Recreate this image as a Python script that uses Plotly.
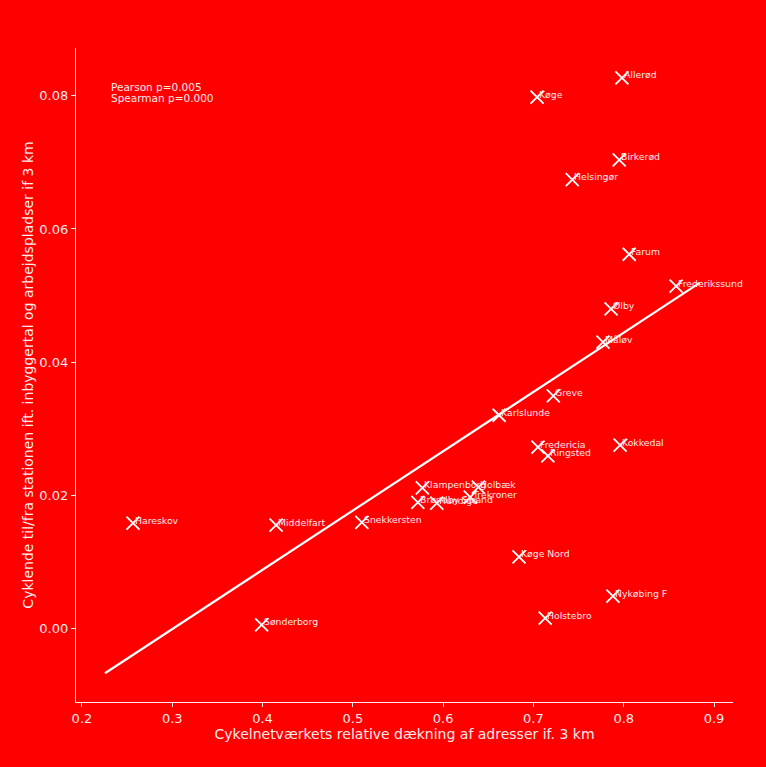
import numpy as np
import plotly.graph_objects as go

stations = ["Allerød", "Køge", "Birkerød", "Helsingør", "Farum", "Frederikssund",
            "Ølby", "Måløv", "Greve", "Karlslunde", "Fredericia", "Ringsted",
            "Kokkedal", "Klampenborg", "Holbæk", "Trekroner", "Brøndby Strand",
            "Hundige", "Hareskov", "Middelfart", "Snekkersten", "Køge Nord",
            "Nykøbing F", "Holstebro", "Sønderborg"]
coverage = [0.798, 0.704, 0.795, 0.743, 0.806, 0.858,
            0.786, 0.777, 0.722, 0.662, 0.705, 0.716,
            0.796, 0.577, 0.639, 0.630, 0.572,
            0.593, 0.2565, 0.415, 0.510, 0.684,
            0.788, 0.713, 0.399]
cyclists = [0.0827, 0.0798, 0.0704, 0.0674, 0.0562, 0.0514,
            0.0480, 0.0430, 0.0349, 0.0320, 0.0272, 0.0259,
            0.0275, 0.0211, 0.0212, 0.0197, 0.0189,
            0.0188, 0.0158, 0.0155, 0.0159, 0.0107,
            0.0048, 0.0015, 0.0005]

# regression line (endpoints of fitted line as drawn)
fit_x = [0.2255, 0.884]
fit_slope = 0.0891
fit_intercept = -0.02687
fit_y = [fit_slope * v + fit_intercept for v in fit_x]

stats_lines = ["Pearson p=0.005", "Spearman p=0.000"]
x_ticks = [0.2, 0.3, 0.4, 0.5, 0.6, 0.7, 0.8, 0.9]
y_ticks = [0.00, 0.02, 0.04, 0.06, 0.08]

RED = "#ff0000"
TXT = "rgba(255,235,235,1)"

fig = go.Figure()
fig.add_trace(go.Scatter(x=fit_x, y=fit_y, mode="lines",
                         line=dict(color="white", width=2.2), hoverinfo="skip"))
fig.add_trace(go.Scatter(x=coverage, y=cyclists, mode="markers",
                         marker=dict(symbol="x-thin", size=13,
                                     line=dict(color="white", width=1.8))))

for name, xv, yv in zip(stations, coverage, cyclists):
    fig.add_annotation(x=xv, y=yv, text=name, showarrow=False,
                       xanchor="left", yanchor="middle", xshift=0, yshift=3,
                       font=dict(family="DejaVu Sans", size=9.3, color=TXT))

for i, line in enumerate(stats_lines):
    fig.add_annotation(xref="paper", yref="paper", x=0.05, y=0.940, yshift=-11 * i,
                       text=line, showarrow=False, xanchor="left", yanchor="middle",
                       font=dict(family="DejaVu Sans", size=10.5, color=TXT))

axis_common = dict(showline=True, linecolor=TXT, linewidth=1.3, ticks="outside",
                   tickcolor=TXT, ticklen=4, tickwidth=1, showgrid=False,
                   zeroline=False, tickfont=dict(family="DejaVu Sans", size=13, color=TXT),
                   title_font=dict(family="DejaVu Sans", size=14, color=TXT))

fig.update_layout(
    width=766, height=767,
    paper_bgcolor=RED, plot_bgcolor=RED,
    showlegend=False,
    margin=dict(l=76, r=33, t=48, b=65),
    xaxis=dict(range=[0.1934, 0.921], tickvals=x_ticks,
               ticktext=[f"{v:.1f}" for v in x_ticks],
               title=dict(text="Cykelnetværkets relative dækning af adresser if. 3 km", standoff=2),
               **axis_common),
    yaxis=dict(range=[-0.0111, 0.0872], tickvals=y_ticks,
               ticktext=[f"{v:.2f}" for v in y_ticks],
               title=dict(text="Cyklende til/fra stationen ift. inbyggertal og arbejdspladser if 3 km", standoff=2),
               **axis_common),
)

fig.write_html("out.html", config={"displayModeBar": False},
               post_script="document.body.style.margin='0';document.body.style.background='#ff0000';")
